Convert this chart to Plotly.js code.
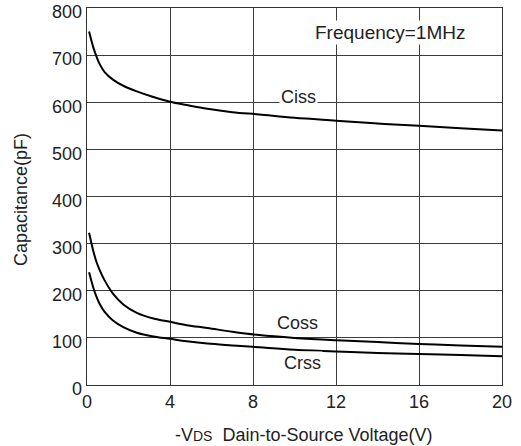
<!DOCTYPE html>
<html>
<head>
<meta charset="utf-8">
<script src="https://cdn.plot.ly/plotly-3.0.1.min.js"></script>
<style>html,body{margin:0;padding:0;background:#fff;}#chart{width:521px;height:446px;}</style>
</head>
<body>
<div id="chart"></div>
<script>
// Drain-to-source voltage (V)
const vds = [0.1, 0.3, 0.45, 0.6, 0.85, 1.25, 1.75, 2.4, 3.2, 4, 4.8, 5.8, 7, 8.3, 10, 12, 14, 16, 18, 20];
// Capacitances (pF)
const ciss = [750, 717, 698, 682, 664, 648, 635, 623, 611, 601, 594, 586, 579, 574, 567, 561, 555, 550, 545, 540];
const coss = [323, 285, 262, 245, 222, 194, 171, 153, 141, 134, 127, 121, 113, 106, 100, 95, 91, 87, 84, 81];
const crss = [239, 207, 188, 173, 155, 137, 123, 111, 103, 98, 93, 88, 84, 80, 75, 71, 68, 66, 63.5, 61];
const seriesNames = ['Ciss', 'Coss', 'Crss'];
const xTicks = [0, 4, 8, 12, 16, 20];
const yTicks = [0, 100, 200, 300, 400, 500, 600, 700, 800];

const FONT = 'Liberation Sans, Arial, sans-serif';
const line = {color: '#000', width: 2, shape: 'spline', smoothing: 1};
const traces = [ciss, coss, crss].map((ys, i) => ({
  x: vds, y: ys, type: 'scatter', mode: 'lines', name: seriesNames[i], line: line, hoverinfo: 'skip'
}));

const axisCommon = {
  showgrid: true, gridcolor: '#3c3c3c', gridwidth: 1,
  showline: true, linecolor: '#333', linewidth: 1.3, mirror: true,
  ticks: '', zeroline: false, ticklabeloverflow: 'allow',
  tickfont: {family: FONT, size: 18, color: '#222'}
};

const layout = {
  width: 521, height: 446,
  margin: {l: 87, r: 19, t: 8, b: 61, pad: 0},
  paper_bgcolor: '#fff', plot_bgcolor: '#fff',
  showlegend: false,
  xaxis: Object.assign({}, axisCommon, {range: [0, 20], tickvals: xTicks, ticktext: xTicks.map(String)}),
  yaxis: Object.assign({}, axisCommon, {range: [0, 800], tickvals: yTicks, ticktext: yTicks.map(String), ticklabelshift: 4}),
  annotations: [
    {x: 14.59, y: 747, xref: 'x', yref: 'y', text: 'Frequency=1MHz', showarrow: false, bgcolor: '#fff',
     font: {family: FONT, size: 19, color: '#222'}, xanchor: 'center', yanchor: 'middle'},
    {x: 10.2, y: 612, xref: 'x', yref: 'y', text: seriesNames[0], showarrow: false, bgcolor: '#fff',
     font: {family: FONT, size: 18, color: '#222'}, xanchor: 'center', yanchor: 'middle'},
    {x: 10.15, y: 131, xref: 'x', yref: 'y', text: seriesNames[1], showarrow: false, bgcolor: '#fff',
     font: {family: FONT, size: 18, color: '#222'}, xanchor: 'center', yanchor: 'middle'},
    {x: 10.4, y: 46, xref: 'x', yref: 'y', text: seriesNames[2], showarrow: false, bgcolor: '#fff',
     font: {family: FONT, size: 18, color: '#222'}, xanchor: 'center', yanchor: 'middle'},
    {x: 0.523, y: -0.133, xref: 'paper', yref: 'paper',
     text: '-V<span style="font-size:14px">DS</span>&nbsp;&nbsp;Dain-to-Source Voltage(V)',
     showarrow: false, font: {family: FONT, size: 18, color: '#222'}, xanchor: 'center', yanchor: 'middle'},
    {x: -0.159, y: 0.4907, xref: 'paper', yref: 'paper', text: 'Capacitance(pF)', textangle: -90,
     showarrow: false, font: {family: FONT, size: 18, color: '#222'}, xanchor: 'center', yanchor: 'middle'}
  ]
};

Plotly.newPlot('chart', traces, layout, {staticPlot: true, displayModeBar: false});
</script>
</body>
</html>
